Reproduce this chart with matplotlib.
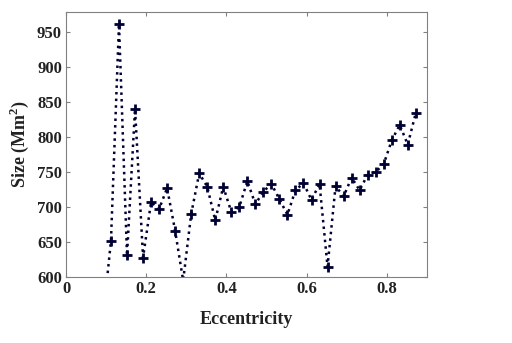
import numpy as np
import matplotlib
matplotlib.use("Agg")
import matplotlib.pyplot as plt

plt.rcParams['font.family'] = ['Liberation Serif', 'DejaVu Serif']
plt.rcParams['mathtext.fontset'] = 'custom'
plt.rcParams['mathtext.rm'] = 'Liberation Serif:bold'
plt.rcParams['mathtext.bf'] = 'Liberation Serif:bold'

eccentricity = [0.092, 0.112, 0.132, 0.152, 0.172, 0.192, 0.212, 0.232, 0.252, 0.272,
                0.292, 0.312, 0.332, 0.352, 0.372, 0.392, 0.412, 0.432, 0.452, 0.472,
                0.492, 0.512, 0.532, 0.552, 0.572, 0.592, 0.612, 0.632, 0.652, 0.672,
                0.692, 0.712, 0.732, 0.752, 0.772, 0.792, 0.812, 0.832, 0.852, 0.872]
size = [540, 652, 961, 631, 840, 628, 707, 697, 727, 666,
        595, 690, 748, 729, 681, 729, 693, 700, 737, 704,
        722, 733, 711, 689, 724, 734, 710, 733, 615, 730,
        715, 742, 724, 746, 750, 761, 795, 817, 789, 834]

fig = plt.figure(figsize=(5.12, 3.43), dpi=100)
ax = fig.add_axes([0.129, 0.192, 0.705, 0.773])

ax.plot(eccentricity, size, linestyle=':', color='#000033', linewidth=1.8,
        marker='+', markersize=7, markeredgewidth=2)

ax.set_xlim(0, 0.9)
ax.set_ylim(600, 978)
ax.set_xticks([0, 0.2, 0.4, 0.6, 0.8])
ax.set_xticklabels(['0', '0.2', '0.4', '0.6', '0.8'])
ax.set_yticks([600, 650, 700, 750, 800, 850, 900, 950])

for s in ax.spines.values():
    s.set_color('#808080')
    s.set_linewidth(0.8)
ax.tick_params(direction='in', top=True, right=True, length=3, color='#808080',
               labelsize=12, labelcolor='#222222', pad=3)
for lab in ax.get_xticklabels() + ax.get_yticklabels():
    lab.set_fontweight('bold')

ax.set_xlabel('Eccentricity', fontsize=13, fontweight='bold', color='#222222', labelpad=10)
ax.set_ylabel(r'Size (Mm$^\mathbf{2}$)', fontsize=13, fontweight='bold', color='#222222', labelpad=4)

fig.savefig('out.png', dpi=100)
